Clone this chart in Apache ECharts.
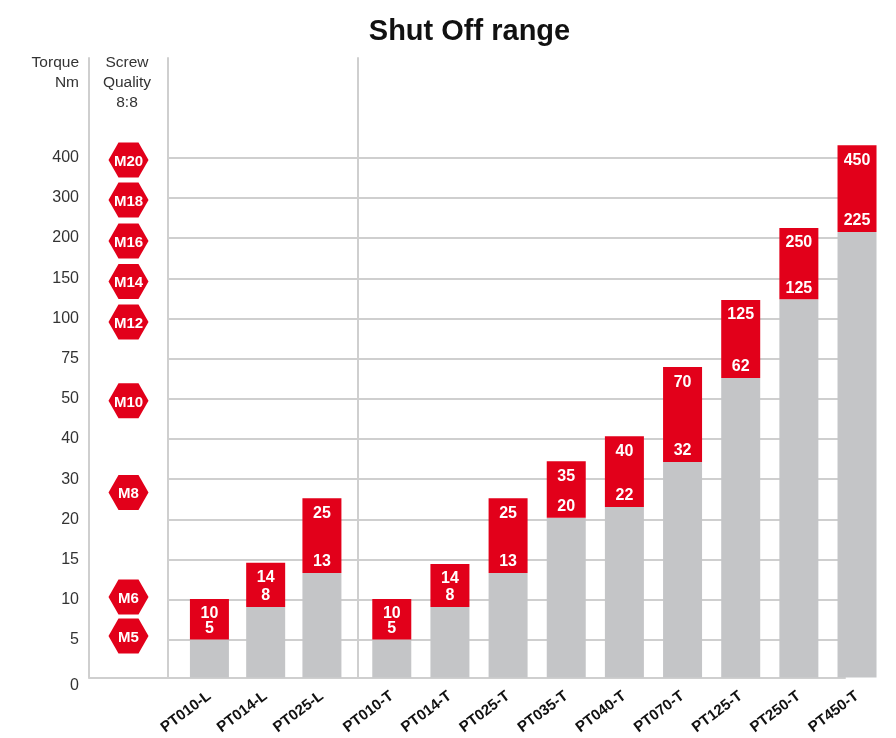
<!DOCTYPE html>
<html>
<head>
<meta charset="utf-8">
<style>
  html, body { margin: 0; padding: 0; background: #fff; }
  #chart { width: 896px; height: 738px; }
</style>
<script src="https://cdn.jsdelivr.net/npm/echarts@6/dist/echarts.min.js"></script>
</head>
<body>
<div id="chart"></div>
<script>
// the torque axis is not linear: labels sit on nearly even rows, levels below are in rows
const tickLabels = ['0', '5', '10', '15', '20', '30', '40', '50', '75', '100', '150', '200', '300', '400'];
const tickLevels = [0, 0.93, 1.93, 2.93, 3.93, 4.93, 5.93, 6.93, 7.93, 8.93, 9.93, 10.93, 11.93, 12.93];

const screwNames = ['M5', 'M6', 'M8', 'M10', 'M12', 'M14', 'M16', 'M18', 'M20'];
const screwLevels = [1.03, 2.0, 4.6, 6.88, 8.84, 9.85, 10.86, 11.88, 12.87];

const linearTools = ['PT010-L', 'PT014-L', 'PT025-L'];
const linearMinLabels = [5, 8, 13];
const linearMaxLabels = [10, 14, 25];
const linearMinLevels = [0.94, 1.75, 2.6];
const linearMaxLevels = [1.95, 2.85, 4.46];

const turnTools = ['PT010-T', 'PT014-T', 'PT025-T', 'PT035-T', 'PT040-T', 'PT070-T', 'PT125-T', 'PT250-T', 'PT450-T'];
const turnMinLabels = [5, 8, 13, 20, 22, 32, 62, 125, 225];
const turnMaxLabels = [10, 14, 25, 35, 40, 70, 125, 250, 450];
const turnMinLevels = [0.94, 1.75, 2.6, 3.97, 4.24, 5.36, 7.45, 9.41, 11.08];
const turnMaxLevels = [1.95, 2.82, 4.46, 5.38, 6.0, 7.72, 9.39, 11.18, 13.24];

const FONT = '"Liberation Sans", Arial, sans-serif';
const RED = '#e2001a';
const GREY = '#c4c5c7';
const LINE = '#cfcfcf';
const TEXT = '#333333';
const HEX = 'path://M10 0H30L40 17.5L30 35H10L0 17.5Z';

const TOP = 58;
const HEIGHT = 619.4;
const MAX_LEVEL = 15.41;

const lineStyle = { color: LINE, width: 2 };

const chart = echarts.init(document.getElementById('chart'), undefined, { renderer: 'canvas' });

function makeGrid(left, width) {
  return { left, width, top: TOP, height: HEIGHT, containLabel: false };
}

function plainX(gridIndex) {
  return {
    type: 'category',
    gridIndex,
    data: [''],
    axisLine: { show: true, onZero: false, lineStyle },
    axisTick: { show: false },
    axisLabel: { show: false }
  };
}

function toolX(gridIndex, data) {
  return {
    type: 'category',
    gridIndex,
    data,
    axisLine: { show: false },
    axisTick: { show: false },
    axisLabel: {
      interval: 0,
      rotate: 37,
      margin: 17,
      color: '#111',
      fontFamily: FONT,
      fontSize: 15,
      fontWeight: 'bold'
    }
  };
}

function levelY(gridIndex, extra) {
  return Object.assign({
    type: 'value',
    gridIndex,
    min: 0,
    max: MAX_LEVEL,
    axisLine: { show: false },
    axisTick: { show: false, customValues: tickLevels },
    axisLabel: { show: false },
    splitLine: { show: false }
  }, extra);
}

function toolSeries(axisIndex, minLabels, maxLabels, minLevels, maxLevels) {
  const stack = 'range' + axisIndex;
  return [
    {
      type: 'bar',
      xAxisIndex: axisIndex,
      yAxisIndex: axisIndex,
      stack,
      barWidth: 39,
      itemStyle: { color: GREY },
      label: {
        show: true,
        position: 'top',
        distance: 3,
        color: '#fff',
        fontFamily: FONT,
        fontSize: 16,
        fontWeight: 'bold',
        formatter: (p) => String(minLabels[p.dataIndex])
      },
      data: minLevels
    },
    {
      type: 'bar',
      xAxisIndex: axisIndex,
      yAxisIndex: axisIndex,
      stack,
      barWidth: 39,
      itemStyle: { color: RED },
      label: {
        show: true,
        position: 'insideTop',
        distance: 7,
        color: '#fff',
        fontFamily: FONT,
        fontSize: 16,
        fontWeight: 'bold',
        formatter: (p) => String(maxLabels[p.dataIndex])
      },
      data: maxLevels.map((v, i) => v - minLevels[i])
    }
  ];
}

const option = {
  backgroundColor: '#fff',
  animation: false,
  title: [
    {
      text: 'Shut Off range',
      left: 469.5,
      top: 17,
      padding: 0,
      textAlign: 'center',
      textStyle: { fontFamily: FONT, fontSize: 29, fontWeight: 'bold', color: '#111' }
    },
    {
      text: 'Torque\nNm',
      left: 79,
      top: 53,
      padding: 0,
      textAlign: 'right',
      textStyle: { fontFamily: FONT, fontSize: 15.5, fontWeight: 'normal', color: TEXT, lineHeight: 19.7, align: 'right' }
    },
    {
      text: 'Screw\nQuality\n8:8',
      left: 127,
      top: 53,
      padding: 0,
      textAlign: 'center',
      textStyle: { fontFamily: FONT, fontSize: 15.5, fontWeight: 'normal', color: TEXT, lineHeight: 19.7, align: 'center' }
    }
  ],
  grid: [
    makeGrid(89, 79),
    makeGrid(168, 677),
    makeGrid(181.3, 168.75),
    makeGrid(362.7, 523.4)
  ],
  xAxis: [
    plainX(0),
    plainX(1),
    toolX(2, linearTools),
    toolX(3, turnTools)
  ],
  yAxis: [
    levelY(0, {
      axisLine: { show: true, lineStyle },
      axisLabel: {
        show: true,
        customValues: tickLevels,
        margin: 10,
        color: TEXT,
        fontFamily: FONT,
        fontSize: 16,
        verticalAlignMinLabel: 'top',
        formatter: (v) => tickLabels[tickLevels.indexOf(v)]
      }
    }),
    levelY(1, {
      axisLine: { show: true, lineStyle },
      splitLine: { show: true, lineStyle }
    }),
    levelY(2),
    levelY(3, {
      offset: 4.7,
      axisLine: { show: true, lineStyle }
    })
  ],
  series: [
    {
      type: 'scatter',
      xAxisIndex: 0,
      yAxisIndex: 0,
      symbol: HEX,
      symbolSize: [40, 35],
      symbolKeepAspect: false,
      itemStyle: { color: RED, opacity: 1 },
      label: {
        show: true,
        position: 'inside',
        offset: [0, 1.5],
        color: '#fff',
        fontFamily: FONT,
        fontSize: 15,
        fontWeight: 'bold',
        formatter: (p) => screwNames[p.dataIndex]
      },
      data: screwLevels.map((v) => [0, v])
    },
    ...toolSeries(2, linearMinLabels, linearMaxLabels, linearMinLevels, linearMaxLevels),
    ...toolSeries(3, turnMinLabels, turnMaxLabels, turnMinLevels, turnMaxLevels)
  ]
};

chart.setOption(option);
</script>
</body>
</html>
